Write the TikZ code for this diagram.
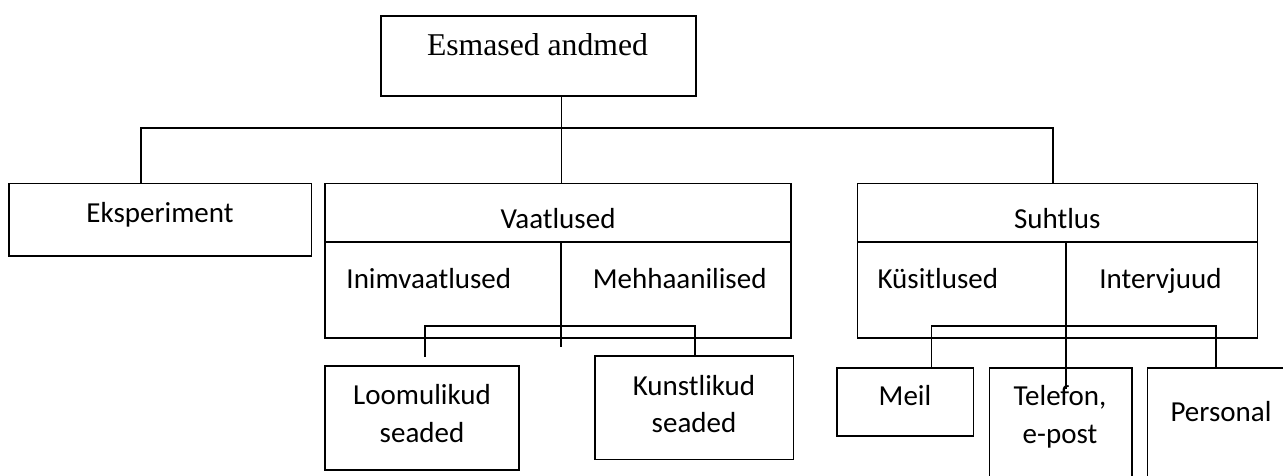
\documentclass[tikz,border=0pt]{standalone}
\usepackage{fontspec}
\setmainfont{Carlito}
\newfontfamily\serifx{Liberation Serif}
\begin{document}
\begin{tikzpicture}[x=1pt,y=-1pt,line width=1.6pt,
  box/.style={draw,rectangle,inner sep=0pt,outer sep=0pt},
  lbl/.style={anchor=base,inner sep=0pt,font=\fontsize{29}{37.7}\selectfont},
  conn/.style={line width=1.6pt,line cap=rect}]
\useasboundingbox (0,0) rectangle (1283,475);
\clip (0,0) rectangle (1283,475);

% boxes
\node[box,minimum width=315pt,minimum height=80pt] (top) at (538.5,56) {};
\node[box,minimum width=302.7pt,minimum height=72.5pt] (eks) at (160.3,219.75) {};
\node[box,minimum width=466pt,minimum height=154.2pt] (vaat) at (558,260.6) {};
\node[box,minimum width=400pt,minimum height=154.2pt] (suht) at (1057.3,260.6) {};
\node[box,minimum width=194pt,minimum height=104pt] (loom) at (422,417.7) {};
\node[box,minimum width=198.3pt,minimum height=103.6pt] (kuns) at (694.2,407.5) {};
\node[box,minimum width=136.6pt,minimum height=68pt] (meil) at (905,401.7) {};
\node[box,minimum width=142.4pt,minimum height=132.3pt] (tele) at (1060.5,433.85) {};
\node[box,minimum width=152.7pt,minimum height=132.3pt] (pers) at (1223.65,433.85) {};

% texts
\node[lbl,font=\serifx\fontsize{31.7}{38}\selectfont] (ttop) at (537.5,55) {Esmased andmed};
\node[lbl] (teks) at (160,222) {Eksperiment};
\node[lbl] (tvaat) at (558,228.3) {Vaatlused};
\node[lbl] (tinim) at (428.8,288.3) {Inimvaatlused};
\node[lbl] (tmehh) at (679.7,288.3) {Mehhaanilised};
\node[lbl] (tsuht) at (1057.3,228.3) {Suhtlus};
\node[lbl] (tkys) at (937.8,288.3) {Küsitlused};
\node[lbl] (tint) at (1160.5,288.3) {Intervjuud};
\node[lbl] (tloom) at (422,404.5) {\begin{tabular}[t]{@{}c@{}}Loomulikud\\seaded\end{tabular}};
\node[lbl] (tkuns) at (694,395) {\begin{tabular}[t]{@{}c@{}}Kunstlikud\\seaded\end{tabular}};
\node[lbl] (tmeil) at (905,405.5) {Meil};
\node[lbl] (ttele) at (1060,405.5) {\begin{tabular}[t]{@{}c@{}}Telefon,\\e-post\end{tabular}};
\node[lbl] (tpers) at (1221,421.7) {Personal};

% main connectors
\coordinate (hl) at (141,128);
\coordinate (hr) at (1053,128);
\coordinate (hm) at (561.5,128);
\draw[conn] (top.south -| hm) -- (vaat.north -| hm);
\draw[conn] (eks.north -| hl) -- (hl) -- (hr) -- (suht.north -| hr);

% Vaatlused internals
\coordinate (div) at (0,241.7);
\draw[conn] (vaat.west |- div) -- (vaat.east |- div);
\coordinate (vm) at (561,241.7);
\coordinate (vmend) at (561,346);
\draw[conn] (vm) -- (vmend);
\coordinate (vl) at (425,326);
\coordinate (vle) at (425,355.7);
\coordinate (vr) at (695,326);
\draw[conn] (vle) -- (vl) -- (vr) -- (kuns.north -| vr);

% Suhtlus internals
\draw[conn] (suht.west |- div) -- (suht.east |- div);
\coordinate (sm) at (1066,241.7);
\coordinate (smend) at (1066,388.3);
\draw[conn] (sm) -- (smend);
\coordinate (sl) at (931.3,326);
\coordinate (sr) at (1215.7,326);
\draw[conn] (meil.north -| sl) -- (sl) -- (sr) -- (pers.north -| sr);
\end{tikzpicture}
\end{document}
